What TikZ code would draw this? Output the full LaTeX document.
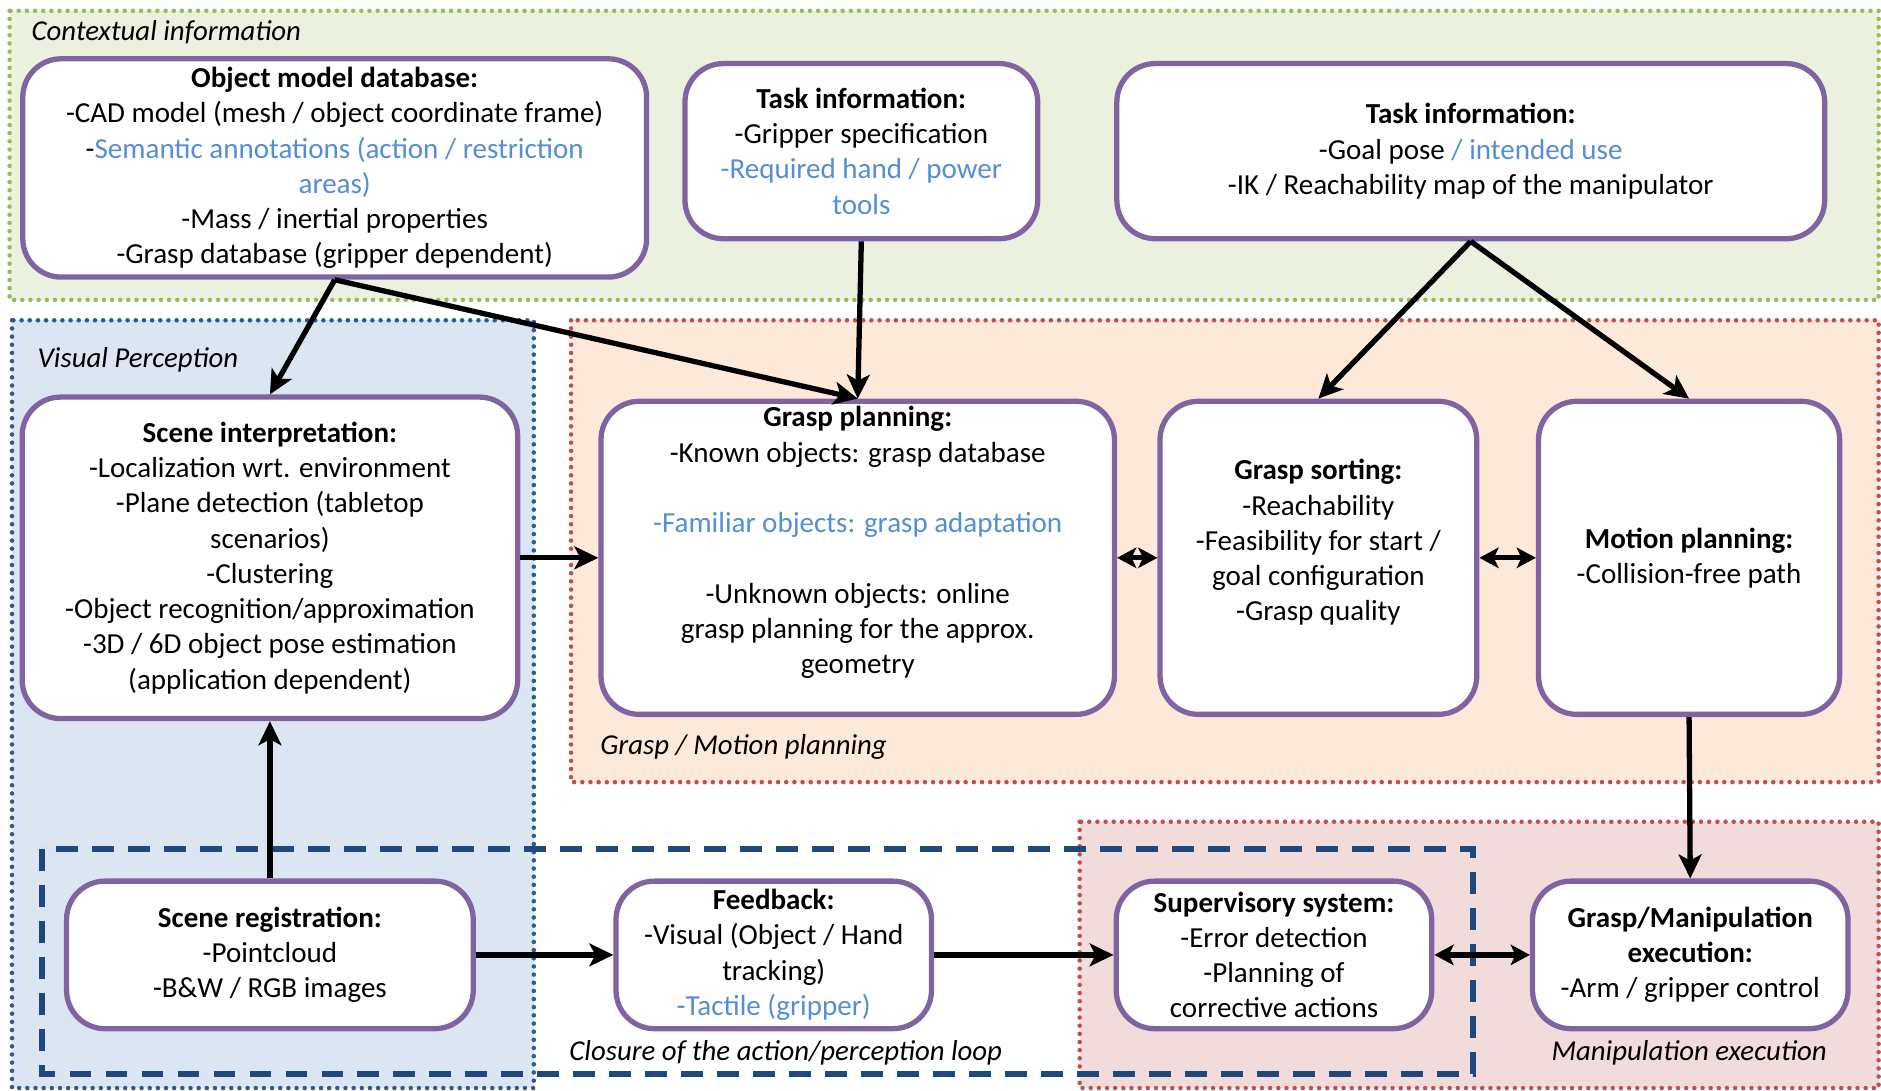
\documentclass[tikz,border=0pt]{standalone}
\usepackage{fontspec}
\setmainfont{Carlito}
\usetikzlibrary{arrows.meta}
\definecolor{boxline}{HTML}{8064A2}
\definecolor{hint}{HTML}{558ED5}
\definecolor{ctxfill}{HTML}{EBF1DE}
\definecolor{ctxline}{HTML}{9BBB59}
\definecolor{visfill}{HTML}{DCE6F2}
\definecolor{visline}{HTML}{2E5A95}
\definecolor{planfill}{HTML}{FDE9D9}
\definecolor{redline}{HTML}{C0504D}
\definecolor{exefill}{HTML}{F2DCDB}
\definecolor{loopline}{HTML}{1F497D}
\newcommand{\hl}[1]{\textcolor{hint}{#1}}

\begin{document}
\begin{tikzpicture}[x=0.5pt, y=-0.5pt,
  box/.style={draw=boxline, line width=2.2pt, fill=white, rounded corners=16pt, align=center, inner sep=2pt, font=\fontsize{12.1}{14.7}\selectfont},
  wh/.style 2 args={minimum width=#1*0.5pt, minimum height=#2*0.5pt},
  region/.style={line width=1.9pt, dash pattern=on 0pt off 3.4pt, line cap=round},
  tag/.style={font=\fontsize{12}{14.7}\selectfont\itshape, inner sep=0pt},
  link/.style={line width=2.2pt, -{Stealth[length=10pt, width=9.5pt, inset=2.5pt]}},
  both/.style={line width=2.2pt, {Stealth[length=8pt, width=8.5pt, inset=2pt]}-{Stealth[length=8pt, width=8.5pt, inset=2pt]}}]

  \useasboundingbox (0,0) rectangle (1568,909);

  \fill[ctxfill] (8,9) rectangle (1566,250);
  \fill[visfill] (10,267) rectangle (445,907);
  \fill[planfill] (476,267) rectangle (1566,652);
  \fill[exefill] (900,685) rectangle (1566,907);
  \draw[region, ctxline] (8,9) rectangle (1566,250);
  \draw[region, visline] (10,267) rectangle (445,907);
  \draw[region, redline] (476,267) rectangle (1566,652);
  \draw[region, redline] (900,685) rectangle (1566,907);
  \draw[loopline, line width=2.4pt, dash pattern=on 9pt off 6pt] (35,708) rectangle (1228,895);

  \node[tag, anchor=west] (ctxtag) at (26,27) {Contextual information};
  \node[tag, anchor=west] (vistag) at (31,300) {Visual Perception};
  \node[tag, anchor=west] (plantag) at (500,623) {Grasp / Motion planning};
  \node[tag] (looptag) at (655,878) {Closure of the action/perception loop};
  \node[tag] (exetag) at (1408,878) {Manipulation execution};

  \node[box, wh={520}{182}] (omd) at (279,140) {\textbf{Object model database:}\\
    -CAD model (mesh / object coordinate frame)\\
    -\hl{Semantic annotations (action / restriction}\\ \hl{areas)}\\
    -Mass / inertial properties\\
    -Grasp database (gripper dependent)};
  \node[box, wh={294}{146}] (task) at (718,126) {\textbf{Task information:}\\
    -Gripper specification\\ \hl{-Required hand / power}\\ \hl{tools}};
  \node[box, wh={590}{146}] (goal) at (1226,126) {\textbf{Task information:}\\
    -Goal pose \hl{/ intended use}\\ -IK / Reachability map of the manipulator};

  \node[box, wh={413}{268}] (si) at (225,465) {\textbf{Scene interpretation:}\\
    -Localization wrt. environment\\ -Plane detection (tabletop\\ scenarios)\\
    -Clustering\\ -Object recognition/approximation\\
    -3D / 6D object pose estimation\\ (application dependent)};
  \node[box, wh={428}{261}] (gp) at (715,465) {\textbf{Grasp planning:}\\
    -Known objects: grasp database\\[14.7pt]
    \hl{-Familiar objects: grasp adaptation}\\[14.7pt]
    -Unknown objects: online\\ grasp planning for the approx.\\ geometry\\ \mbox{}};
  \node[box, wh={264}{261}] (gs) at (1099,465) {\textbf{Grasp sorting:}\\
    -Reachability\\ -Feasibility for start /\\ goal configuration\\ -Grasp quality\\ \mbox{}};
  \node[box, wh={251}{261}] (mp) at (1408,465) {\textbf{Motion planning:}\\ -Collision-free path};

  \node[box, wh={339}{123}] (sr) at (225,796) {\textbf{Scene registration:}\\
    -Pointcloud\\ -B\&W / RGB images};
  \node[box, wh={263}{123}] (fb) at (645,796) {\textbf{Feedback:}\\
    -Visual (Object / Hand\\ tracking)\\ \hl{-Tactile (gripper)}};
  \node[box, wh={263}{123}] (ss) at (1062,796) {\textbf{Supervisory system:}\\
    -Error detection\\ -Planning of\\ corrective actions};
  \node[box, wh={263}{123}] (gme) at (1409,796) {\textbf{Grasp/Manipulation}\\
    \textbf{execution:}\\ -Arm / gripper control};

  \draw[link] (omd.south) -- (si.north);
  \draw[link] (omd.south) -- (gp.north);
  \draw[link] (task.south) -- (gp.north);
  \draw[link] (goal.south) -- (gs.north);
  \draw[link] (goal.south) -- (mp.north);
  \draw[link] (si.east) -- (gp.west);
  \draw[both] (gp.east) -- (gs.west);
  \draw[both] (gs.east) -- (mp.west);
  \draw[link] (mp.south) -- (gme.north);
  \draw[link] (sr.north) -- (si.south);
  \draw[link] (sr.east) -- (fb.west);
  \draw[link] (fb.east) -- (ss.west);
  \draw[both] (ss.east) -- (gme.west);
\end{tikzpicture}
\end{document}
